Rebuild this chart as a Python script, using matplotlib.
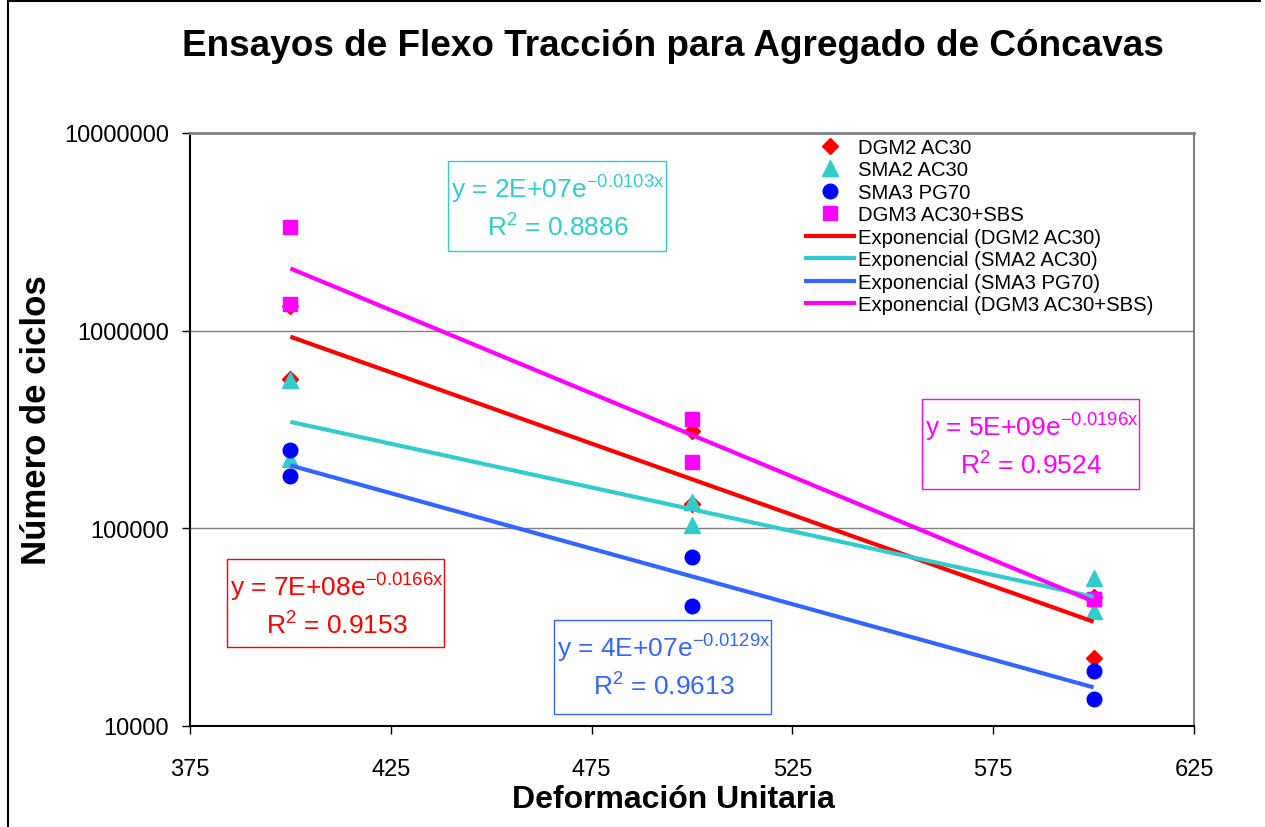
import matplotlib
matplotlib.use("Agg")
import matplotlib.pyplot as plt
import numpy as np
from matplotlib.lines import Line2D
from matplotlib.patches import Rectangle

plt.rcParams['font.family'] = ['Liberation Sans', 'DejaVu Sans']
plt.rcParams['mathtext.fontset'] = 'custom'
plt.rcParams['mathtext.rm'] = 'Liberation Sans'
plt.rcParams['mathtext.it'] = 'Liberation Sans'
plt.rcParams['mathtext.bf'] = 'Liberation Sans:bold'

# ---- data ----
x_vals = [400, 400, 500, 500, 600, 600]
dgm2_ac30 = [1.33e6, 5.7e5, 3.1e5, 1.33e5, 4.5e4, 2.2e4]
sma2_ac30 = [5.6e5, 2.24e5, 1.36e5, 1.04e5, 5.6e4, 3.8e4]
sma3_pg70 = [2.49e5, 1.84e5, 7.2e4, 4.05e4, 1.9e4, 1.37e4]
dgm3_sbs = [3.34e6, 1.36e6, 3.57e5, 2.17e5, 4.4e4, 4.4e4]

series_names = ["DGM2 AC30", "SMA2 AC30", "SMA3 PG70", "DGM3 AC30+SBS"]
equations = ["y = 7E+08e$^{\\mathrm{-0.0166x}}$", "y = 2E+07e$^{\\mathrm{-0.0103x}}$",
             "y = 4E+07e$^{\\mathrm{-0.0129x}}$", "y = 5E+09e$^{\\mathrm{-0.0196x}}$"]
r2_texts = ["R$^{\\mathrm{2}}$ = 0.9153", "R$^{\\mathrm{2}}$ = 0.8886",
            "R$^{\\mathrm{2}}$ = 0.9613", "R$^{\\mathrm{2}}$ = 0.9524"]
x_ticks = [375, 425, 475, 525, 575, 625]
y_ticks = [10000, 100000, 1000000, 10000000]

title = "Ensayos de Flexo Tracción para Agregado de Cóncavas"
xlabel = "Deformación Unitaria"
ylabel = "Número de ciclos"

# ---- style ----
W, H = 1265, 828
marker_colors = ["#FF0000", "#33CCCC", "#0000FF", "#FF00FF"]
line_colors = ["#FF0000", "#33CCCC", "#3366FF", "#FF00FF"]
markers = ["D", "^", "o", "s"]
msizes = [8, 11.5, 10.5, 10.5]

fig = plt.figure(figsize=(W / 100, H / 100), dpi=100)

def fx(px):
    return px / W

def fy(py):
    return 1 - py / H

ax = fig.add_axes([fx(190), fy(727), fx(1194) - fx(190), fy(134) - fy(727)])
ax.set_yscale('log')
ax.set_xlim(375, 625)
ax.set_ylim(1e4, 1e7)
ax.set_xticks(x_ticks)
ax.set_yticks(y_ticks)
ax.set_yticklabels([str(v) for v in y_ticks])
ax.yaxis.set_minor_locator(matplotlib.ticker.NullLocator())
ax.tick_params(axis='both', labelsize=17, length=6, width=1, direction='out', pad=9)
ax.tick_params(axis='x', pad=17)
for v in [1e5, 1e6]:
    ax.axhline(v, color='#808080', lw=1, zorder=0)
ax.spines['top'].set_color('#808080')
ax.spines['top'].set_linewidth(2)
ax.spines['right'].set_color('#808080')
ax.spines['right'].set_linewidth(1.5)
ax.spines['left'].set_linewidth(1.5)
ax.spines['bottom'].set_linewidth(1.5)

all_series = [dgm2_ac30, sma2_ac30, sma3_pg70, dgm3_sbs]
handles_m = []
for i, ys in enumerate(all_series):
    h, = ax.plot(x_vals, ys, linestyle='none', marker=markers[i], ms=msizes[i],
                 color=marker_colors[i], mec=marker_colors[i], zorder=3 + i * 0.1,
                 label=series_names[i])
    handles_m.append(h)

handles_l = []
xs = np.array(x_vals, dtype=float)
for i, ys in enumerate(all_series):
    b, a = np.polyfit(xs, np.log(np.array(ys)), 1)
    xl = np.array([400.0, 600.0])
    h, = ax.plot(xl, np.exp(a + b * xl), color=line_colors[i], lw=3, zorder=5,
                 solid_capstyle='butt', label="Exponencial (" + series_names[i] + ")")
    handles_l.append(h)

leg = ax.legend(handles=handles_m + handles_l, loc='upper left',
                bbox_to_anchor=(fx(804), fy(139)), bbox_transform=fig.transFigure,
                frameon=False, fontsize=14.6, handlelength=2.55, handletextpad=0.1,
                labelspacing=0.17, borderpad=0, borderaxespad=0, numpoints=1)

# equation boxes (pixel boxes: x0, y0, x1, y1)
boxes = [(227, 560, 444, 648), (448, 162, 666, 252), (554, 621, 771, 715), (922, 400, 1139, 490)]
for i, (x0, y0, x1, y1) in enumerate(boxes):
    fig.add_artist(Rectangle((fx(x0), fy(y1)), fx(x1) - fx(x0), fy(y0) - fy(y1),
                             transform=fig.transFigure, fill=True, facecolor='white',
                             edgecolor=line_colors[i], lw=1, zorder=6))
    cx = (x0 + x1) / 2 + 1
    fig.text(fx(cx), fy(y0 + 28), equations[i], ha='center', va='center',
             fontsize=19, color=line_colors[i], zorder=7)
    fig.text(fx(cx), fy(y0 + 66), r2_texts[i], ha='center', va='center',
             fontsize=19, color=line_colors[i], zorder=7)

fig.text(fx(673), fy(47), title, ha='center', va='center', fontsize=26.6, fontweight='bold')
fig.text(fx(673), fy(800), xlabel, ha='center', va='center', fontsize=23, fontweight='bold')
fig.text(fx(37), fy(420), ylabel, ha='center', va='center', fontsize=25, fontweight='bold',
         rotation=90)

# figure border
fig.add_artist(Line2D([fx(8), fx(8)], [0, fy(2)], transform=fig.transFigure, color='black', lw=1.5))
fig.add_artist(Line2D([fx(8), fx(1260)], [fy(2), fy(2)], transform=fig.transFigure, color='black', lw=1.5))

fig.savefig("out.png", dpi=100)
